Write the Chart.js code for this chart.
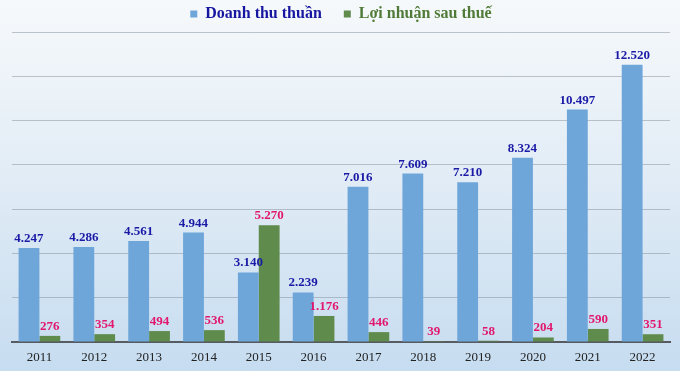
<!DOCTYPE html>
<html>
<head>
<meta charset="utf-8">
<script src="https://cdn.jsdelivr.net/npm/chart.js@4.4.1/dist/chart.umd.min.js"></script>
<style>
  body { margin: 0; background: linear-gradient(to bottom, #f6f9fb 0%, #e3edf6 45%, #c6dcf0 100%); }
  #wrap { width: 680px; height: 371px; }
</style>
</head>
<body>
<div id="wrap"><canvas id="ctx" width="680" height="371"></canvas></div>
<script>
const years = ["2011", "2012", "2013", "2014", "2015", "2016", "2017", "2018", "2019", "2020", "2021", "2022"];
const revenue = [4247, 4286, 4561, 4944, 3140, 2239, 7016, 7609, 7210, 8324, 10497, 12520];
const profit = [276, 354, 494, 536, 5270, 1176, 446, 39, 58, 204, 590, 351];
const seriesNames = ["Doanh thu thuần", "Lợi nhuận sau thuế"];

const blue = "#6fa6d9";
const green = "#5f8b4c";
const labelColors = ["#1a1aa6", "#e3166e"];
const legendColors = ["#1616a0", "#4f7a37"];

function fmt(v) {
    return String(v).replace(/\B(?=(\d{3})+(?!\d))/g, ".");
}

// value labels above each bar
const valueLabels = {
    id: "valueLabels",
    afterDatasetsDraw(chart) {
        const c = chart.ctx;
        c.save();
        c.font = "bold 13px 'Liberation Serif'";
        c.textAlign = "center";
        c.textBaseline = "alphabetic";
        chart.data.datasets.forEach((ds, i) => {
            const meta = chart.getDatasetMeta(i);
            c.fillStyle = labelColors[i];
            meta.data.forEach((bar, j) => {
                c.fillText(fmt(ds.data[j]), bar.x, bar.y - 6);
            });
        });
        c.restore();
    }
};

const chart = new Chart(document.getElementById("ctx"), {
    type: "bar",
    data: {
        labels: years,
        datasets: [{
            label: seriesNames[0],
            data: revenue,
            backgroundColor: blue,
            borderWidth: 0,
            categoryPercentage: 0.76,
            barPercentage: 1.0
        }, {
            label: seriesNames[1],
            data: profit,
            backgroundColor: green,
            borderWidth: 0,
            categoryPercentage: 0.76,
            barPercentage: 1.0
        }]
    },
    options: {
        responsive: false,
        animation: false,
        layout: { padding: { left: 12, right: 10, top: 0, bottom: 0 } },
        plugins: {
            legend: {
                display: true,
                position: "top",
                labels: {
                    boxWidth: 7,
                    boxHeight: 7,
                    padding: 6,
                    font: { family: "'Liberation Serif'", size: 16, weight: "bold" },
                    generateLabels(chart) {
                        return chart.data.datasets.map((ds, i) => ({
                            // extra space after the first item widens the gap like the original
                            text: i === 0 ? ds.label + "\u2003" : ds.label,
                            fillStyle: ds.backgroundColor,
                            strokeStyle: ds.backgroundColor,
                            lineWidth: 0,
                            fontColor: legendColors[i],
                            datasetIndex: i
                        }));
                    }
                }
            },
            tooltip: { enabled: false }
        },
        scales: {
            x: {
                grid: { display: false, drawTicks: false },
                border: { display: true, color: "#555b60", width: 2 },
                ticks: {
                    color: "#222",
                    padding: 8,
                    font: { family: "'Liberation Serif'", size: 13 }
                },
                afterFit(scale) { scale.height = 29; }
            },
            y: {
                min: 0,
                max: 14000,
                ticks: { stepSize: 2000, display: false },
                grid: { color: "rgba(120,132,145,0.45)", drawTicks: false },
                border: { display: false }
            }
        }
    },
    plugins: [valueLabels]
});
</script>
</body>
</html>
